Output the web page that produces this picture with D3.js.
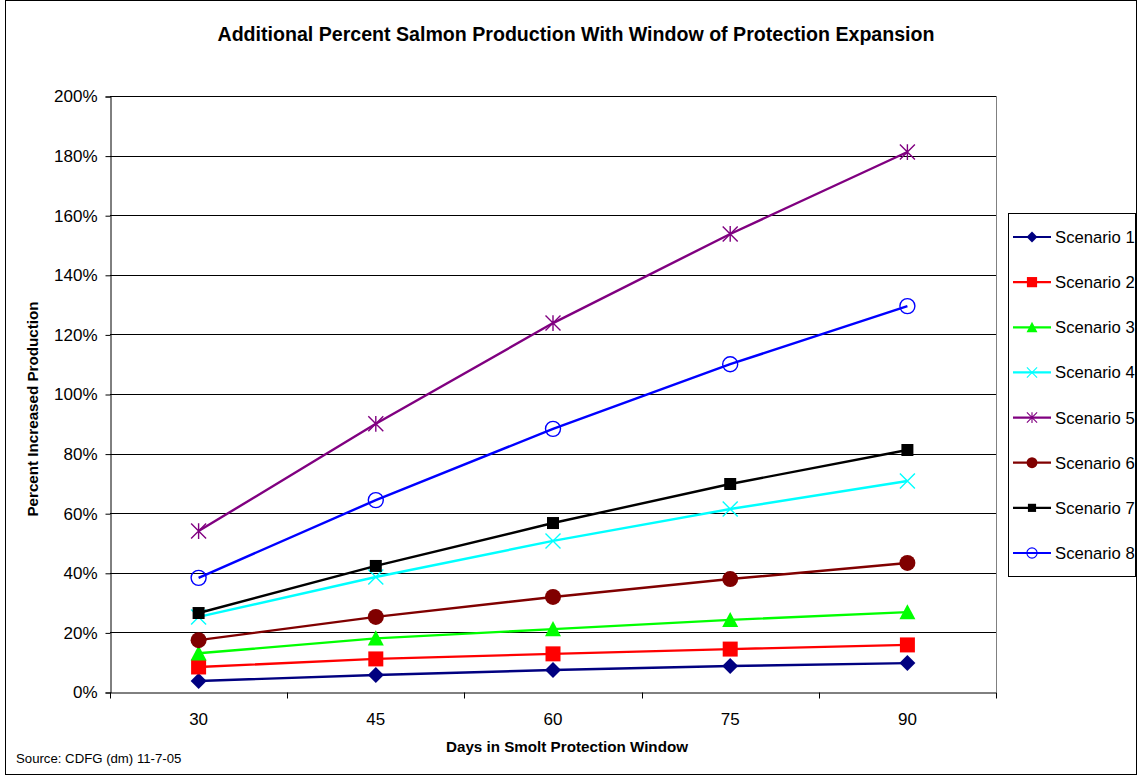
<!DOCTYPE html>
<html>
<head>
<meta charset="utf-8">
<script src="https://cdn.jsdelivr.net/npm/d3@7"></script>
<style>
  body { margin: 0; background: #fff; }
  svg { font-family: "Liberation Sans", Arial, sans-serif; }
</style>
</head>
<body>
<svg id="chart" width="1138" height="777"></svg>
<script>
const days = [30, 45, 60, 75, 90];
const yTicks = [0, 20, 40, 60, 80, 100, 120, 140, 160, 180, 200];

const scenario1 = [3.7, 5.7, 7.4, 8.7, 9.7];
const scenario2 = [8.4, 11.1, 12.8, 14.4, 15.8];
const scenario3 = [13.0, 18.0, 21.1, 24.2, 26.8];
const scenario4 = [25.2, 38.6, 50.7, 61.4, 70.8];
const scenario5 = [54.0, 90.0, 123.8, 153.7, 181.2];
const scenario6 = [17.4, 25.2, 31.9, 37.9, 43.3];
const scenario7 = [26.5, 42.3, 56.7, 69.8, 81.2];
const scenario8 = [38.3, 64.4, 88.3, 110.0, 129.5];

const seriesNames = ['Scenario 1', 'Scenario 2', 'Scenario 3', 'Scenario 4',
  'Scenario 5', 'Scenario 6', 'Scenario 7', 'Scenario 8'];
const seriesValues = [scenario1, scenario2, scenario3, scenario4,
  scenario5, scenario6, scenario7, scenario8];
const seriesColors = ['#000080', '#ff0000', '#00ff00', '#00ffff',
  '#800080', '#800000', '#000000', '#0000ff'];
const seriesMarkers = ['diamond', 'bigsquare', 'triangle', 'x', 'star', 'circle', 'square', 'ring'];

const svg = d3.select('#chart');
const plot = { left: 110, top: 96, right: 996, bottom: 692 };

// outer chart border
svg.append('rect')
  .attr('x', 5.5).attr('y', 0.5)
  .attr('width', 1131).attr('height', 774)
  .attr('fill', 'none').attr('stroke', '#000').attr('stroke-width', 1);

const x = d3.scaleBand().domain(days).range([plot.left, plot.right]);
const y = d3.scaleLinear().domain([0, 200]).range([plot.bottom, plot.top]);

// gridlines
svg.append('g')
  .selectAll('line')
  .data(yTicks.slice(1))
  .join('line')
  .attr('x1', plot.left).attr('x2', plot.right)
  .attr('y1', d => Math.round(y(d)) + 0.5).attr('y2', d => Math.round(y(d)) + 0.5)
  .attr('stroke', '#000').attr('stroke-width', 1);

// right edge of plot area
svg.append('line')
  .attr('x1', plot.right + 0.5).attr('x2', plot.right + 0.5)
  .attr('y1', plot.top).attr('y2', plot.bottom)
  .attr('stroke', '#808080');

// y axis
const yAxis = svg.append('g')
  .attr('transform', `translate(${plot.left + 0.5},0.5)`)
  .call(d3.axisLeft(y).tickValues(yTicks).tickSize(5).tickPadding(8)
    .tickFormat(d => d + '%'));
yAxis.select('.domain').attr('stroke', '#000');
yAxis.selectAll('text').attr('font-size', 17).attr('fill', '#000')
  .attr('font-family', '"Liberation Sans", Arial, sans-serif');

// x axis, ticks between categories
const xAxis = svg.append('g')
  .attr('transform', `translate(0,${plot.bottom + 0.5})`)
  .call(d3.axisBottom(x).tickSize(0).tickPadding(20));
xAxis.select('.domain').attr('stroke', '#000');
xAxis.selectAll('text').attr('font-size', 17).attr('fill', '#000')
  .attr('font-family', '"Liberation Sans", Arial, sans-serif');
xAxis.selectAll('.sep')
  .data(days.concat(['end']))
  .join('line')
  .attr('class', 'sep')
  .attr('x1', d => Math.round(d === 'end' ? plot.right : x(d)) + 0.5)
  .attr('x2', d => Math.round(d === 'end' ? plot.right : x(d)) + 0.5)
  .attr('y1', 0).attr('y2', 6)
  .attr('stroke', '#000');

// marker shapes, size = half width in px
const shapes = {
  diamond: { draw(c, r) { c.moveTo(0, -r); c.lineTo(r, 0); c.lineTo(0, r); c.lineTo(-r, 0); c.closePath(); } },
  square: { draw(c, r) { c.rect(-r, -r, 2 * r, 2 * r); } },
  triangle: { draw(c, r) { c.moveTo(0, -r); c.lineTo(r, r * 0.9); c.lineTo(-r, r * 0.9); c.closePath(); } },
  x: { draw(c, r) { c.moveTo(-r, -r); c.lineTo(r, r); c.moveTo(r, -r); c.lineTo(-r, r); } },
  star: { draw(c, r) {
    c.moveTo(-r, -r); c.lineTo(r, r); c.moveTo(r, -r); c.lineTo(-r, r);
    c.moveTo(0, -r * 1.05); c.lineTo(0, r * 1.05);
  } },
  circle: { draw(c, r) { c.moveTo(r, 0); c.arc(0, 0, r, 0, 2 * Math.PI); } }
};

const symbolFor = (type, color) => {
  const spec = {
    diamond: ['diamond', 8],
    bigsquare: ['square', 7.5],
    square: ['square', 6],
    triangle: ['triangle', 8],
    x: ['x', 7.5],
    star: ['star', 7.5],
    circle: ['circle', 8],
    ring: ['circle', 7.5]
  }[type];
  const outline = type === 'x' || type === 'star' || type === 'ring';
  return {
    d: d3.symbol().type(shapes[spec[0]]).size(spec[1])(),
    fill: outline ? 'none' : color,
    stroke: outline ? color : 'none',
    width: outline ? 1.4 : 0
  };
};

const line = d3.line()
  .x((d, i) => x.bandwidth() / 2 + x(days[i]))
  .y(d => y(d));

seriesValues.forEach((vals, k) => {
  const g = svg.append('g');
  g.append('path')
    .datum(vals)
    .attr('d', line)
    .attr('fill', 'none')
    .attr('stroke', seriesColors[k])
    .attr('stroke-width', 2.4);
  const sym = symbolFor(seriesMarkers[k], seriesColors[k]);
  g.selectAll('path.mark')
    .data(vals)
    .join('path')
    .attr('class', 'mark')
    .attr('transform', (d, i) => `translate(${x(days[i]) + x.bandwidth() / 2},${y(d)})`)
    .attr('d', sym.d)
    .attr('fill', sym.fill)
    .attr('stroke', sym.stroke)
    .attr('stroke-width', sym.width);
});

// title
svg.append('text')
  .attr('x', 576).attr('y', 41)
  .attr('text-anchor', 'middle')
  .attr('font-size', 19.6).attr('font-weight', 'bold')
  .text('Additional Percent Salmon Production With Window of Protection Expansion');

// axis titles
svg.append('text')
  .attr('x', 567).attr('y', 752)
  .attr('text-anchor', 'middle')
  .attr('font-size', 15.2).attr('font-weight', 'bold')
  .text('Days in Smolt Protection Window');

svg.append('text')
  .attr('transform', `translate(38,409) rotate(-90)`)
  .attr('text-anchor', 'middle')
  .attr('font-size', 15.2).attr('font-weight', 'bold')
  .text('Percent Increased Production');

// source note
svg.append('text')
  .attr('x', 16).attr('y', 763)
  .attr('font-size', 13.2)
  .text('Source: CDFG (dm) 11-7-05');

// legend
const legend = svg.append('g');
legend.append('rect')
  .attr('x', 1008.5).attr('y', 213.5)
  .attr('width', 127).attr('height', 363)
  .attr('fill', '#fff').attr('stroke', '#000');

const legendY = d3.scalePoint().domain(seriesNames).range([237, 553]);

seriesNames.forEach((name, k) => {
  const ly = legendY(name);
  const item = legend.append('g');
  item.append('line')
    .attr('x1', 1013).attr('x2', 1051)
    .attr('y1', ly).attr('y2', ly)
    .attr('stroke', seriesColors[k]).attr('stroke-width', 2.2);
  const sym = symbolFor(seriesMarkers[k], seriesColors[k]);
  item.append('path')
    .attr('transform', `translate(1032,${ly}) scale(0.68)`)
    .attr('d', sym.d)
    .attr('fill', sym.fill)
    .attr('stroke', sym.stroke)
    .attr('stroke-width', sym.width / 0.68 * 0.8);
  item.append('text')
    .attr('x', 1055).attr('y', ly + 6)
    .attr('font-size', 16.7)
    .text(name);
});
</script>
</body>
</html>
